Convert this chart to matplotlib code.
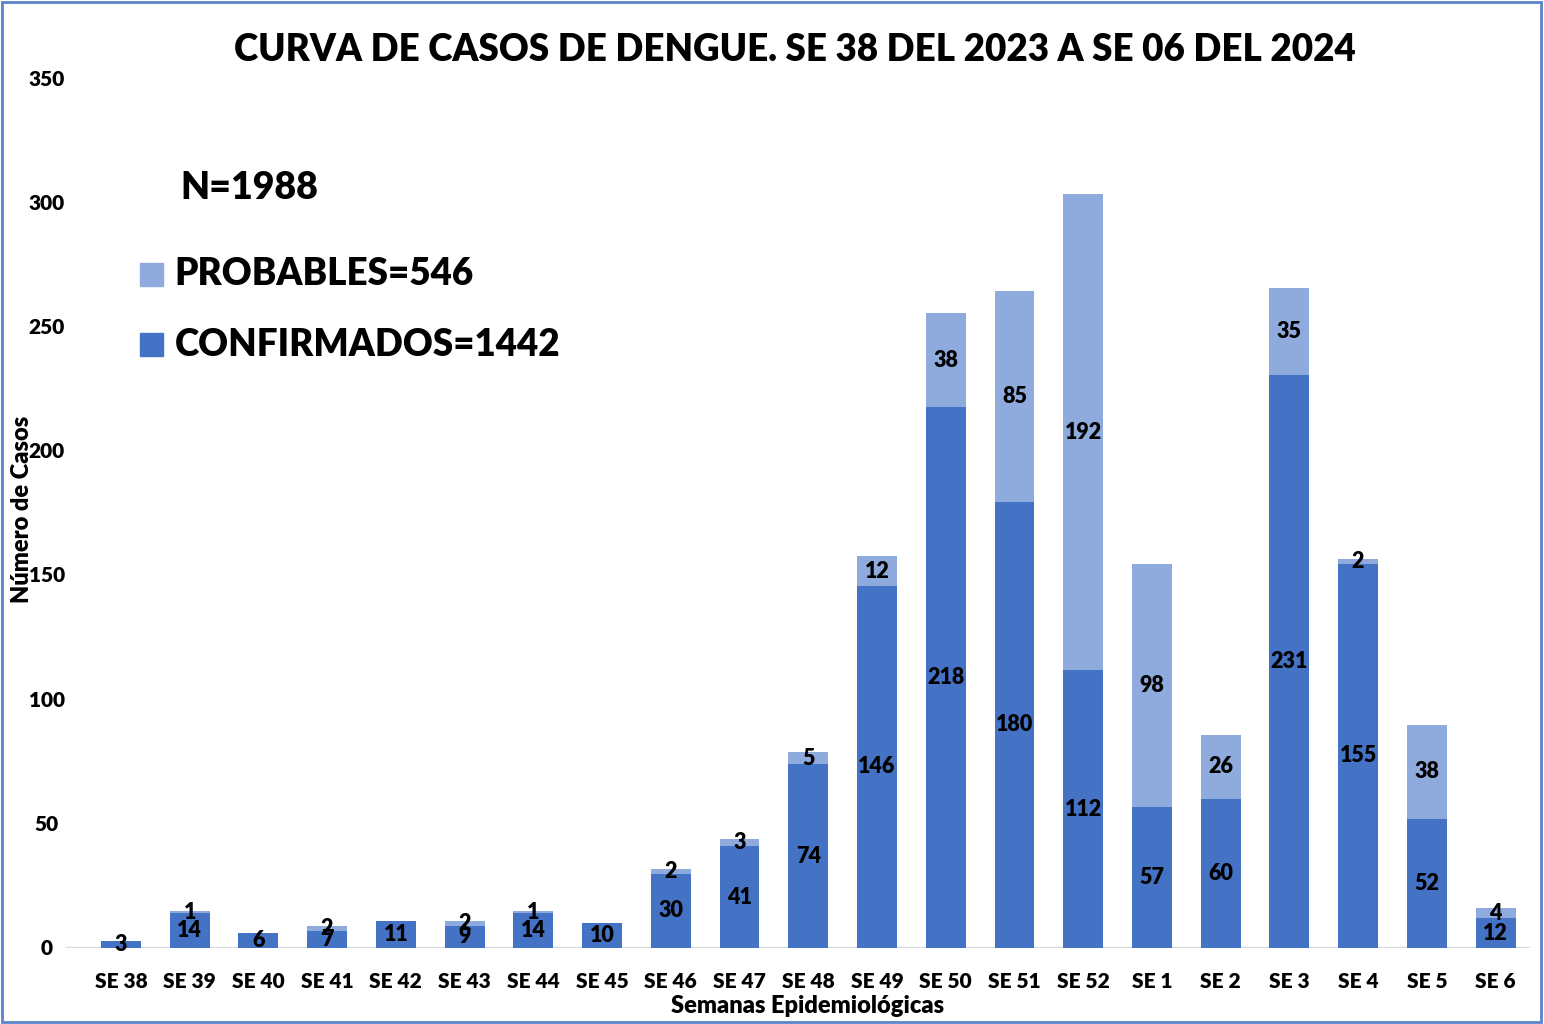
import matplotlib
matplotlib.use("Agg")
import matplotlib.pyplot as plt
from matplotlib.patches import Rectangle
import numpy as np

plt.rcParams['font.family'] = ['Lato', 'DejaVu Sans']

# datos
semanas = ['SE 38', 'SE 39', 'SE 40', 'SE 41', 'SE 42', 'SE 43', 'SE 44', 'SE 45',
           'SE 46', 'SE 47', 'SE 48', 'SE 49', 'SE 50', 'SE 51', 'SE 52',
           'SE 1', 'SE 2', 'SE 3', 'SE 4', 'SE 5', 'SE 6']
confirmados = [3, 14, 6, 7, 11, 9, 14, 10, 30, 41, 74, 146, 218, 180, 112, 57, 60, 231, 155, 52, 12]
probables = [0, 1, 0, 2, 0, 2, 1, 0, 2, 3, 5, 12, 38, 85, 192, 98, 26, 35, 2, 38, 4]

c_conf = '#4472C4'
c_prob = '#8FAADC'

fig = plt.figure(figsize=(15.44, 10.24), dpi=100)
ax = fig.add_axes([0.0427, 0.0742, 0.9482, 0.8477])

x = np.arange(len(semanas))
w = 0.58
ax.bar(x, confirmados, w, color=c_conf)
ax.bar(x, probables, w, bottom=confirmados, color=c_prob)

# etiquetas dentro de cada segmento
for i in range(len(x)):
    if confirmados[i] > 0:
        ax.text(x[i], confirmados[i] / 2, str(confirmados[i]), ha='center', va='center',
                fontsize=15.5, fontweight='heavy', color='black')
    if probables[i] > 0:
        ax.text(x[i], confirmados[i] + probables[i] / 2, str(probables[i]), ha='center',
                va='center', fontsize=15.5, fontweight='heavy', color='black')

ax.set_ylim(0, 350)
ax.set_xlim(-0.8, 20.5)
ax.set_yticks(range(0, 351, 50))
ax.set_yticklabels([])
ax.set_xticks(x)
ax.set_xticklabels(semanas)
for s in ax.spines.values():
    s.set_visible(False)
ax.axhline(0, color='#D9D9D9', lw=2.5, zorder=0)
ax.tick_params(axis='both', length=0)
ax.tick_params(axis='x', pad=17, labelsize=15)
for lb in ax.get_xticklabels():
    lb.set_fontweight('heavy')

# etiquetas del eje y, centradas como en el original
for v in range(0, 351, 50):
    ax.text(-0.8 - 19 / 68.7, v, str(v), ha='center', va='center', fontsize=15,
            fontweight='heavy')

fig.text(0.5145, 0.951, 'CURVA DE CASOS DE DENGUE. SE 38 DEL 2023 A SE 06 DEL 2024',
         ha='center', va='center', fontsize=26.5, fontweight='heavy')
fig.text(0.523, 0.018, 'Semanas Epidemiológicas', ha='center', va='center',
         fontsize=17, fontweight='heavy')
fig.text(0.0145, 0.503, 'Número de Casos', ha='center', va='center', rotation=90,
         fontsize=17, fontweight='heavy')

# leyenda manual
fig.text(0.117, 0.816, 'N=1988', ha='left', va='center', fontsize=27, fontweight='heavy')
fig.patches.append(Rectangle((0.0907, 0.7205), 0.015, 0.0225, transform=fig.transFigure,
                             color=c_prob, figure=fig))
fig.text(0.113, 0.732, 'PROBABLES=546', ha='left', va='center', fontsize=26.5,
         fontweight='heavy')
fig.patches.append(Rectangle((0.0907, 0.652), 0.015, 0.0225, transform=fig.transFigure,
                             color=c_conf, figure=fig))
fig.text(0.113, 0.6635, 'CONFIRMADOS=1442', ha='left', va='center', fontsize=26.5,
         fontweight='heavy')

# borde
fig.patches.append(Rectangle((0.001, 0.002), 0.997, 0.996, transform=fig.transFigure,
                             fill=False, edgecolor='#5B84CC', lw=2, figure=fig))

fig.savefig('out.png', dpi=100)
